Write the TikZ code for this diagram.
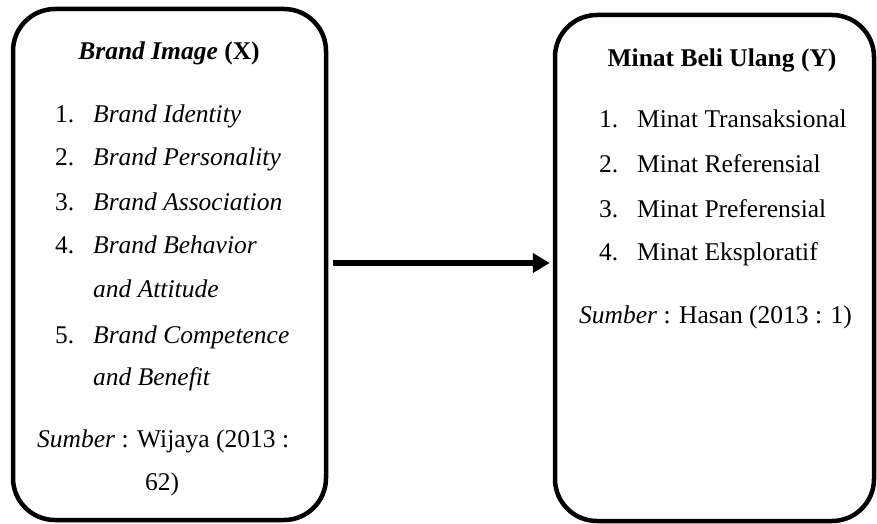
\documentclass[tikz,border=0pt]{standalone}
\usepackage{fontspec}
\setmainfont{Liberation Serif}
\usetikzlibrary{arrows.meta}
\begin{document}
\begin{tikzpicture}[x=1pt,y=-1pt,
  box/.style={draw,line width=4.5pt,rounded corners=42pt,inner sep=0pt},
  txt/.style={anchor=base west,inner sep=0pt,font=\fontsize{25.5}{30}\selectfont},
  ttl/.style={anchor=base,inner sep=0pt,font=\fontsize{25.5}{30}\selectfont\bfseries},
  arr/.style={line width=6pt,-{Triangle[length=17pt,width=19pt]}}]
\useasboundingbox (0,0) rectangle (877,524);
\node[box,minimum width=313pt,minimum height=511pt] (L) at (169.5,264.5) {};
\node[box,minimum width=319pt,minimum height=506pt] (R) at (714.5,268) {};
% left box text
\node[ttl] (lt) at (169,60) {\textit{Brand Image} (X)};
\node[txt] (l1n) at (55,122) {1.};
\node[txt] (l1) at (93,122) {\textit{Brand Identity}};
\node[txt] (l2n) at (55,165) {2.};
\node[txt] (l2) at (93,165) {\textit{Brand Personality}};
\node[txt] (l3n) at (55,210) {3.};
\node[txt] (l3) at (93,210) {\textit{Brand Association}};
\node[txt] (l4n) at (55,253) {4.};
\node[txt] (l4) at (93,253) {\textit{Brand Behavior}};
\node[txt] (l4b) at (93,297) {\textit{and Attitude}};
\node[txt] (l5n) at (55,343) {5.};
\node[txt] (l5) at (93,343) {\textit{Brand Competence}};
\node[txt] (l5b) at (93,385) {\textit{and Benefit}};
\node[txt] (ls) at (37,447) {\textit{Sumber} : Wijaya (2013 :};
\node[txt] (ls2) at (145,490) {62)};
% right box text
\node[ttl] (rt) at (722,67) {Minat Beli Ulang (Y)};
\node[txt] (r1n) at (599,128) {1.};
\node[txt] (r1) at (637,128) {Minat Transaksional};
\node[txt] (r2n) at (599,172) {2.};
\node[txt] (r2) at (637,172) {Minat Referensial};
\node[txt] (r3n) at (599,217) {3.};
\node[txt] (r3) at (637,217) {Minat Preferensial};
\node[txt] (r4n) at (599,260) {4.};
\node[txt] (r4) at (637,260) {Minat Eksploratif};
\node[txt] (rs) at (579,323) {\textit{Sumber} : Hasan (2013 : 1)};
% arrow
\draw[arr,shorten <=5pt,shorten >=3pt] (L.east |- 0,263) -- (R.west |- 0,263);
\end{tikzpicture}
\end{document}
